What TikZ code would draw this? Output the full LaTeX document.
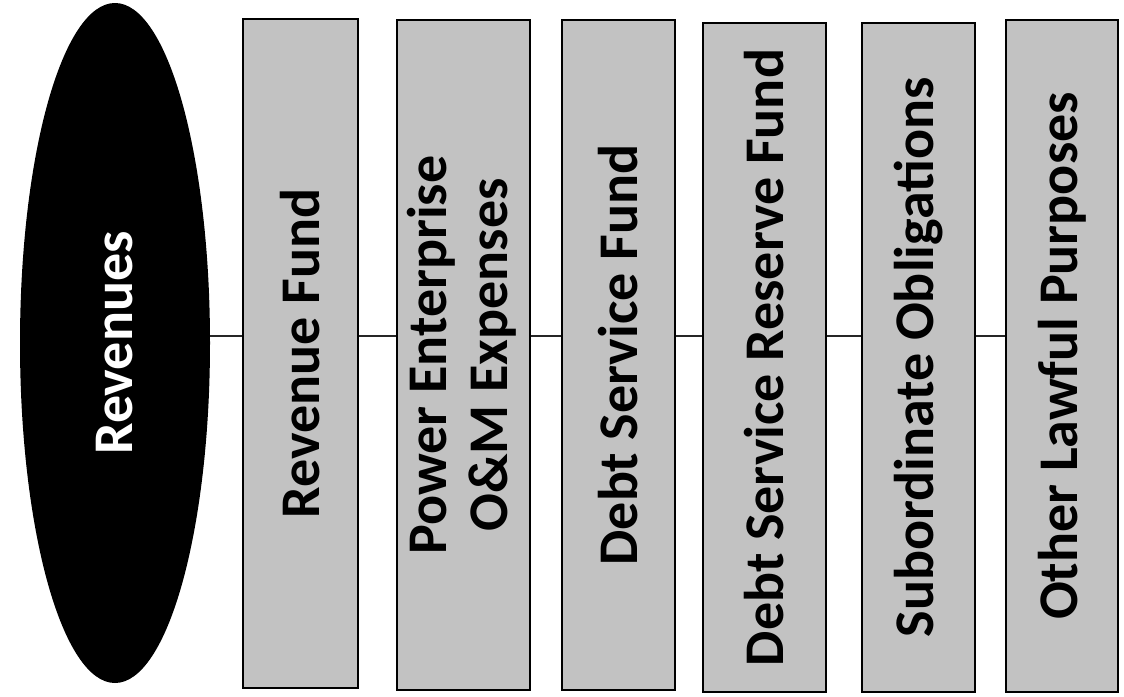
\documentclass[tikz,border=0pt]{standalone}
\usepackage{fontspec}
\setmainfont{Carlito}
\usetikzlibrary{shapes.geometric}

\tikzset{
  fundbox/.style={draw=black, line width=1.2pt, fill=black!24, inner sep=0pt,
    font=\fontsize{56}{65}\selectfont\bfseries},
  link/.style={line width=2pt, black!85}
}

\begin{document}
\begin{tikzpicture}[x=1pt, y=-1pt]
    \useasboundingbox (0,0) rectangle (1124,696);
    \coordinate (spine) at (0,336);

    % source of all money
    \node[ellipse, fill=black, inner sep=0pt, minimum width=190pt, minimum height=680pt,
      text=white, font=\fontsize{56}{65}\selectfont\bfseries] (rev) at (115,343)
      {\rotatebox{90}{Revenues}};

    % funds, left to right
    \node[fundbox, minimum width=115pt, minimum height=669pt] (rf) at (300.5,353.5)
      {\rotatebox{90}{Revenue Fund}};
    \node[fundbox, minimum width=133pt, minimum height=670pt] (om) at (463.5,355)
      {\rotatebox{90}{\begin{tabular}{@{}c@{}}Power Enterprise\\[-4pt]O\&M Expenses\end{tabular}}};
    \node[fundbox, minimum width=113pt, minimum height=670pt] (dsf) at (618.5,355)
      {\rotatebox{90}{Debt Service Fund}};
    \node[fundbox, minimum width=123pt, minimum height=669pt] (dsrf) at (764.5,357.5)
      {\rotatebox{90}{Debt Service Reserve Fund}};
    \node[fundbox, minimum width=113pt, minimum height=669pt] (sub) at (918.5,357.5)
      {\rotatebox{90}{Subordinate Obligations}};
    \node[fundbox, minimum width=112pt, minimum height=672pt] (olp) at (1062,356)
      {\rotatebox{90}{Other Lawful Purposes}};

    \draw[link] (rev.east |- spine) -- (rf.west |- spine);
    \draw[link] (rf.east |- spine) -- (om.west |- spine);
    \draw[link] (om.east |- spine) -- (dsf.west |- spine);
    \draw[link] (dsf.east |- spine) -- (dsrf.west |- spine);
    \draw[link] (dsrf.east |- spine) -- (sub.west |- spine);
    \draw[link] (sub.east |- spine) -- (olp.west |- spine);
\end{tikzpicture}
\end{document}
